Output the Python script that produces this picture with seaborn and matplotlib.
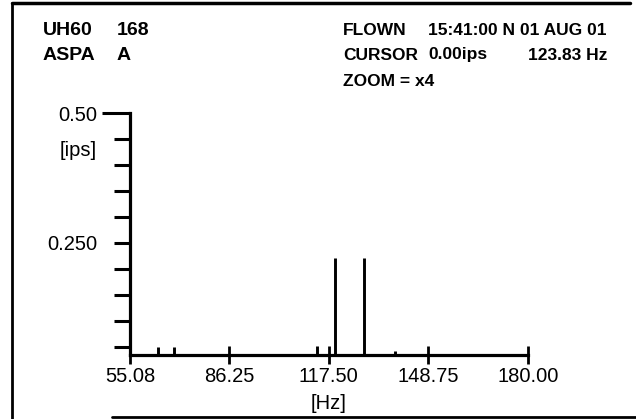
import numpy as np
import pandas as pd
import matplotlib
matplotlib.use("Agg")
import matplotlib.pyplot as plt
import seaborn as sns
from matplotlib.lines import Line2D

# ---- data ----
freq_hz = [63.9, 68.9, 113.8, 119.4, 128.5, 138.3]
amp_ips = [0.050, 0.050, 0.052, 0.221, 0.221, 0.042]
x_ticks = [55.08, 86.25, 117.50, 148.75, 180.00]
x_tick_labels = ["55.08", "86.25", "117.50", "148.75", "180.00"]
y_ticks = [0.05, 0.10, 0.15, 0.20, 0.25, 0.30, 0.35, 0.40, 0.45, 0.50]
y_tick_labels = ["", "", "", "", "0.250", "", "", "", "", "0.50"]
header_left = [("UH60", "168"), ("ASPA", "A")]
header_right = [("FLOWN", "15:41:00 N", "01 AUG 01"),
                ("CURSOR", "0.00ips", "123.83 Hz")]
header_zoom = "ZOOM = x4"

df = pd.DataFrame({"freq": freq_hz, "amp": amp_ips})

sns.set_theme(style="white")
plt.rcParams["font.family"] = ["Liberation Sans", "DejaVu Sans"]

W, H = 636, 419
fig = plt.figure(figsize=(W / 100, H / 100), dpi=100)
fig.patch.set_facecolor("white")

def fx(px):
    return px / W

def fy(py):
    return 1 - py / H

ax = fig.add_axes([fx(130), fy(355), fx(528) - fx(130), fy(113) - fy(355)])
ymin = 0.0346
ax.set_xlim(55.08, 180.0)
ax.set_ylim(ymin, 0.5)
ax.vlines(df["freq"], ymin, df["amp"], color="black", linewidth=2.1)

for s in ["top", "right"]:
    ax.spines[s].set_visible(False)
for s in ["left", "bottom"]:
    ax.spines[s].set_color("black")
    ax.spines[s].set_linewidth(2.3)
    ax.spines[s].set_capstyle("projecting")

ax.set_yticks(y_ticks)
ax.set_yticklabels(y_tick_labels)
ax.set_xticks(x_ticks)
ax.set_xticklabels(x_tick_labels)
ax.tick_params(axis="y", direction="out", length=11.5, width=2.2, color="black",
               labelsize=14.5, pad=12, left=True)
ax.tick_params(axis="x", direction="inout", length=13, width=2.0, color="black",
               labelsize=14.5, pad=2, bottom=True)
ax.yaxis.get_major_ticks()[-1].tick1line.set_markersize(20)
ax.set_xlabel("[Hz]", fontsize=14.5, labelpad=6, color="black")
ax.set_ylabel("")
ax.grid(False)
for lab in ax.get_xticklabels() + ax.get_yticklabels():
    lab.set_color("black")

fig.text(fx(97), fy(150), "[ips]", ha="right", va="center", fontsize=14.5, color="black")

hdr_l = dict(fontsize=14, fontweight="bold", color="black", va="center")
hdr_r = dict(fontsize=12.5, fontweight="bold", color="black", va="center")
for (a, b), yy in zip(header_left, [30.5, 55]):
    fig.text(fx(43), fy(yy), a, ha="left", **hdr_l)
    fig.text(fx(117), fy(yy), b, ha="left", **hdr_l)
for (a, b, c), yy in zip(header_right, [30.5, 55]):
    fig.text(fx(343), fy(yy), a, ha="left", **hdr_r)
    fig.text(fx(428), fy(yy), b, ha="left", **hdr_r)
    fig.text(fx(607), fy(yy), c, ha="right", **hdr_r)
fig.text(fx(343), fy(81), header_zoom, ha="left", **hdr_r)

# page frame
fig.add_artist(Line2D([fx(12), fx(630)], [fy(3), fy(3)], color="black", lw=2.5))
fig.add_artist(Line2D([fx(12), fx(12)], [fy(3), fy(419)], color="black", lw=2))
fig.add_artist(Line2D([fx(112), fx(636)], [fy(417), fy(417)], color="black", lw=2))

fig.savefig("out.png", dpi=100, facecolor="white")
